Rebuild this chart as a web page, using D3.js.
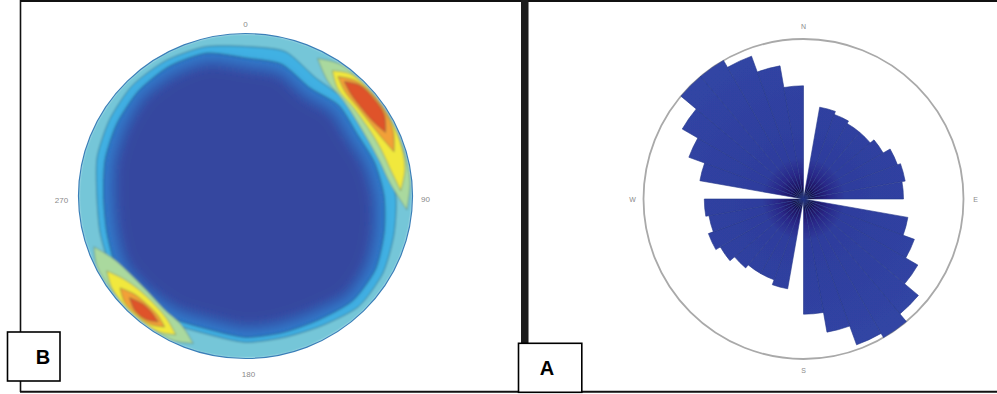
<!DOCTYPE html>
<html>
<head>
<meta charset="utf-8">
<script src="https://cdn.jsdelivr.net/npm/d3@7/dist/d3.min.js"></script>
<style>
  html, body { margin: 0; padding: 0; background: #fff; }
  svg { display: block; }
</style>
</head>
<body>
<div id="chart"></div>
<script>
// ---- rose diagram (A): 10 degree bins, counts per bin ----
const roseBins = d3.range(0, 360, 10);
const roseCounts = [0, 23.3, 22.5, 21.8, 21.8, 23, 25, 25.8, 25,
                    0, 26.5, 29.5, 33, 37.5, 40, 38.8, 33.8, 28.8,
                    0, 22.8, 21.5, 21.5, 22.5, 24, 25.3, 24, 24.8,
                    0, 26.3, 30.5, 35, 40, 40, 38, 33.8, 28.3];
const roseLabels = ["N", "E", "S", "W"];

// ---- stereonet density (B): contour boundaries as fraction of net radius ----
const netAz = d3.range(0, 360, 15);
const coreR = [.79, .78, .71, .73, .71, .74, .77, .80, .84, .86, .82, .81, .81, .79, .81, .82, .83, .80, .79, .81, .83, .86, .86, .85];
const blueR = [.85, .84, .77, .79, .77, .80, .83, .86, .90, .91, .88, .87, .87, .85, .87, .88, .89, .86, .85, .87, .89, .91, .92, .91];
const cyanR = [.92, .92, .84, .84, .83, .86, .90, .92, .95, .96, .92, .90, .90, .88, .90, .91, .92, .90, .89, .92, .94, .96, .96, .95];
const netLabels = ["0", "90", "180", "270"];

// density maxima along the rim (NE and SW), per level: azimuth, inner and outer radius
const neGreenAz = [27, 35, 45, 55, 65, 75, 85, 95];
const neGreenIn = [.95, .86, .83, .81, .81, .83, .87, .97];
const neGreenOut = [.95, .99, .99, .99, .99, .99, .99, .97];
const neYellowAz = [34, 40, 50, 60, 70, 80, 88];
const neYellowIn = [.93, .86, .845, .845, .86, .885, .93];
const neYellowOut = [.93, .98, .99, .99, .985, .97, .93];
const neOrangeAz = [37, 43, 51, 59, 66, 73];
const neOrangeIn = [.92, .875, .865, .87, .89, .93];
const neOrangeOut = [.92, .97, .985, .985, .97, .93];
const neRedAz = [40, 45, 52, 59, 65];
const neRedIn = [.92, .89, .88, .89, .925];
const neRedOut = [.92, .965, .975, .97, .925];

const swGreenAz = [199, 206, 215, 225, 235, 244, 251];
const swGreenIn = [.96, .88, .85, .83, .84, .88, .96];
const swGreenOut = [.96, .99, .99, .99, .99, .99, .96];
const swYellowAz = [206, 212, 220, 228, 235, 241];
const swYellowIn = [.95, .89, .86, .86, .89, .95];
const swYellowOut = [.95, .985, .99, .99, .98, .95];
const swOrangeAz = [211, 216, 222, 228, 233];
const swOrangeIn = [.94, .9, .89, .9, .94];
const swOrangeOut = [.94, .975, .98, .975, .94];
const swRedAz = [214, 218, 223, 228];
const swRedIn = [.935, .91, .905, .935];
const swRedOut = [.935, .965, .968, .935];

const W = 997, H = 394;
const svg = d3.select("#chart").append("svg")
  .attr("width", W).attr("height", H)
  .attr("viewBox", `0 0 ${W} ${H}`);

const defs = svg.append("defs");
defs.append("filter").attr("id", "soft").append("feGaussianBlur").attr("stdDeviation", 0.7);
defs.append("filter").attr("id", "netSoft").append("feGaussianBlur").attr("stdDeviation", 1);
defs.append("filter").attr("id", "coreBlur")
  .attr("x", "-20%").attr("y", "-20%").attr("width", "140%").attr("height", "140%")
  .append("feGaussianBlur").attr("stdDeviation", 7);

const rad = d3.scaleLinear().domain([0, 360]).range([0, 2 * Math.PI]);

// ===================== B : stereonet =====================
const netR = 167;
const netCx = 245.5, netCy = 196;
const netScale = d3.scaleLinear().domain([0, 1]).range([0, netR]);

defs.append("clipPath").attr("id", "netClip")
  .append("circle").attr("r", netR);

const net = svg.append("g")
  .attr("transform", `translate(${netCx},${netCy}) scale(1,${162.5 / netR})`);

const body = net.append("g").attr("clip-path", "url(#netClip)").attr("filter", "url(#netSoft)");

const closed = arr => d3.lineRadial()
  .angle((d, i) => rad(netAz[i]))
  .radius(d => netScale(d))
  .curve(d3.curveCardinalClosed.tension(0.3))(arr);

body.append("circle").attr("r", netR).attr("fill", "#74c6d8");
body.append("path").attr("d", closed(cyanR)).attr("fill", "#41b1e3")
  .attr("stroke", "#24596f").attr("stroke-width", 0.8).attr("stroke-opacity", 0.8);
body.append("path").attr("d", closed(blueR)).attr("fill", "#2f7bcb")
  .attr("stroke", "#1d4f70").attr("stroke-width", 0.8).attr("stroke-opacity", 0.8);
body.append("path").attr("d", closed(coreR)).attr("fill", "#35479f")
  .attr("filter", "url(#coreBlur)");

const blob = (az, inner, outer) => d3.areaRadial()
  .angle((d, i) => rad(az[i]))
  .innerRadius((d, i) => netScale(inner[i]))
  .outerRadius((d, i) => netScale(outer[i]))
  .curve(d3.curveCatmullRom)(az);

const hot = [
  [neGreenAz, neGreenIn, neGreenOut, "#aad99e"],
  [neYellowAz, neYellowIn, neYellowOut, "#f1e83e"],
  [neOrangeAz, neOrangeIn, neOrangeOut, "#f2a037"],
  [neRedAz, neRedIn, neRedOut, "#df522c"],
  [swGreenAz, swGreenIn, swGreenOut, "#aad99e"],
  [swYellowAz, swYellowIn, swYellowOut, "#f1e83e"],
  [swOrangeAz, swOrangeIn, swOrangeOut, "#f2a037"],
  [swRedAz, swRedIn, swRedOut, "#df522c"]
];
hot.forEach(h => {
  body.append("path").attr("d", blob(h[0], h[1], h[2]))
    .attr("fill", h[3]).attr("stroke", "#3d5a48")
    .attr("stroke-width", 0.7).attr("stroke-opacity", 0.6);
});

net.append("circle").attr("r", netR).attr("fill", "none")
  .attr("stroke", "#3a7fb8").attr("stroke-width", 1.2).attr("filter", "url(#soft)");

// compass labels of the net
const netLabelPos = [[0, -176], [180, 4], [3, 184], [-184, 5]];
svg.append("g").selectAll("text").data(netLabels).join("text")
  .attr("x", (d, i) => netCx + netLabelPos[i][0])
  .attr("y", (d, i) => netCy + netLabelPos[i][1] * 162.5 / netR)
  .attr("text-anchor", "middle")
  .attr("dominant-baseline", "middle")
  .style("font-family", "Liberation Sans, Arial, sans-serif")
  .style("font-size", "8px")
  .attr("fill", "#8a8a8a")
  .text(d => d);

// ===================== A : rose diagram =====================
const roseR = 160;
const roseCx = 803.5, roseCy = 199;
const roseScale = d3.scaleLinear().domain([0, 40]).range([0, roseR]);

const grad = defs.append("radialGradient").attr("id", "petalFill")
  .attr("gradientUnits", "userSpaceOnUse").attr("cx", 0).attr("cy", 0).attr("r", roseR);
[[0, "#000000"], [0.04, "#07051a"], [0.08, "#1e1460"], [0.16, "#2a2888"],
 [0.26, "#2f3d9d"], [1, "#3045a4"]].forEach(s =>
  grad.append("stop").attr("offset", s[0]).attr("stop-color", s[1]));

const rose = svg.append("g").attr("transform", `translate(${roseCx},${roseCy})`);

rose.append("circle").attr("r", roseR).attr("fill", "none")
  .attr("stroke", "#a9a9a9").attr("stroke-width", 1.8);

const arc = d3.arc()
  .innerRadius(0)
  .outerRadius(d => roseScale(d.count))
  .startAngle(d => rad(d.bin))
  .endAngle(d => rad(d.bin + 10));

rose.append("g").attr("filter", "url(#soft)")
  .selectAll("path")
  .data(roseBins.map((b, i) => ({ bin: b, count: roseCounts[i] })).filter(d => d.count > 0))
  .join("path")
  .attr("d", arc)
  .attr("fill", "url(#petalFill)")
  .attr("stroke", "#25358a")
  .attr("stroke-width", 0.6);

const roseLabelPos = [[0, -172], [172, 1], [0, 172], [-171, 1]];
rose.append("g").selectAll("text").data(roseLabels).join("text")
  .attr("x", (d, i) => roseLabelPos[i][0])
  .attr("y", (d, i) => roseLabelPos[i][1])
  .attr("text-anchor", "middle")
  .attr("dominant-baseline", "middle")
  .style("font-family", "Liberation Sans, Arial, sans-serif")
  .style("font-size", "7px")
  .attr("fill", "#8a8a8a")
  .text(d => d);

// ===================== frame and panel tags =====================
const frame = svg.append("g").attr("stroke", "#111").attr("fill", "none");
frame.append("line").attr("x1", 20).attr("x2", W).attr("y1", 1).attr("y2", 1).attr("stroke-width", 2);
frame.append("line").attr("x1", 20).attr("x2", W).attr("y1", 391.8).attr("y2", 391.8).attr("stroke-width", 2);
frame.append("line").attr("x1", 20.5).attr("x2", 20.5).attr("y1", 0).attr("y2", 332).attr("stroke-width", 1.6);
frame.append("line").attr("x1", 20.5).attr("x2", 20.5).attr("y1", 381).attr("y2", 392).attr("stroke-width", 1.6);

svg.append("rect").attr("x", 521).attr("y", 0).attr("width", 7.5).attr("height", 343)
  .attr("fill", "#1c1c1c").attr("filter", "url(#soft)");

const tags = [{ t: "B", x: 7.5, y: 332, w: 52.5, h: 49, tx: 43 },
              { t: "A", x: 518.5, y: 343.3, w: 63.3, h: 49, tx: 547 }];
const tag = svg.append("g").selectAll("g").data(tags).join("g");
tag.append("rect")
  .attr("x", d => d.x).attr("y", d => d.y).attr("width", d => d.w).attr("height", d => d.h)
  .attr("fill", "#fff").attr("stroke", "#000").attr("stroke-width", 1.6);
tag.append("text")
  .attr("x", d => d.tx).attr("y", d => d.y + d.h / 2 + 7.5)
  .attr("text-anchor", "middle")
  .style("font-family", "Liberation Sans, Arial, sans-serif")
  .style("font-weight", "bold")
  .style("font-size", "20px")
  .attr("fill", "#000")
  .text(d => d.t);
</script>
</body>
</html>
